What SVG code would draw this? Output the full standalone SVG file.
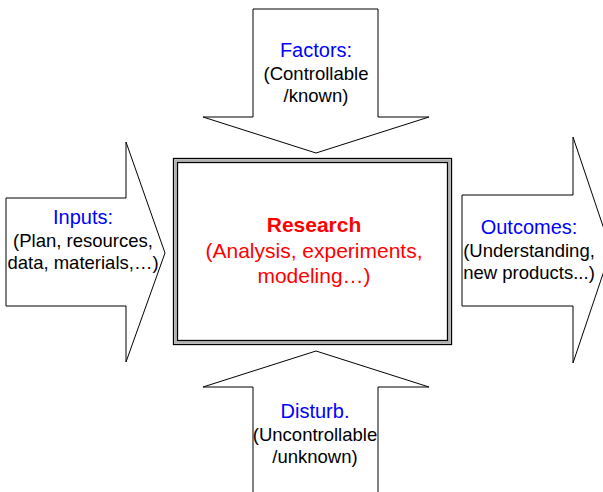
<svg xmlns="http://www.w3.org/2000/svg" width="603" height="492" viewBox="0 0 603 492">
  <style>
    .arrow { fill: #ffffff; stroke: #000000; stroke-width: 1; stroke-linejoin: miter; }
    .lbl { font-family: "Liberation Sans", Arial, Helvetica, sans-serif; text-anchor: middle; }
    .head { fill: #0000ff; font-size: 20px; }
    .body { fill: #000000; font-size: 18.5px; }
    .core { fill: #ff0000; font-size: 21px; }
  </style>
  <rect width="603" height="492" fill="#ffffff"/>

  <!-- block arrows pointing at the central box -->
  <g id="connectors">
    <g id="factors">
      <polygon class="arrow" points="253,9 378,9 378,117 429,117 316,153 203,117 253,117"/>
      <text class="lbl head" x="316" y="57">Factors:</text>
      <text class="lbl body" x="316" y="80">(Controllable</text>
      <text class="lbl body" x="316" y="102">/known)</text>
    </g>
    <g id="inputs">
      <polygon class="arrow" points="6,198 126,198 126,142 165,253 126,362 126,306 6,306"/>
      <text class="lbl head" x="83" y="224">Inputs:</text>
      <text class="lbl body" x="83" y="247">(Plan, resources,</text>
      <text class="lbl body" x="83" y="269">data, materials,…)</text>
    </g>
    <g id="outcomes">
      <polygon class="arrow" points="462,195 573,195 573,137 611,250 573,363 573,306 462,306"/>
      <text class="lbl head" x="529" y="234">Outcomes:</text>
      <text class="lbl body" x="529" y="257">(Understanding,</text>
      <text class="lbl body" x="529" y="279">new products...)</text>
    </g>
    <g id="disturb">
      <polygon class="arrow" points="253,500 253,387 203,387 316,351 429,387 378,387 378,500"/>
      <text class="lbl head" x="315" y="418">Disturb.</text>
      <text class="lbl body" x="315" y="441">(Uncontrollable</text>
      <text class="lbl body" x="315" y="463">/unknown)</text>
    </g>
  </g>

  <!-- central research box with a triple border -->
  <g id="research">
    <rect x="173.5" y="158.5" width="278" height="186" fill="#ffffff" stroke="#000000" stroke-width="1.3"/>
    <rect x="175.5" y="160.5" width="274" height="182" fill="none" stroke="#b0b0b0" stroke-width="2.4"/>
    <rect x="177.5" y="162.5" width="270" height="178" fill="#ffffff" stroke="#000000" stroke-width="1.3"/>
    <text class="lbl core" x="314" y="232" font-weight="bold">Research</text>
    <text class="lbl core" x="314" y="258">(Analysis, experiments,</text>
    <text class="lbl core" x="314" y="283">modeling…)</text>
  </g>
</svg>
